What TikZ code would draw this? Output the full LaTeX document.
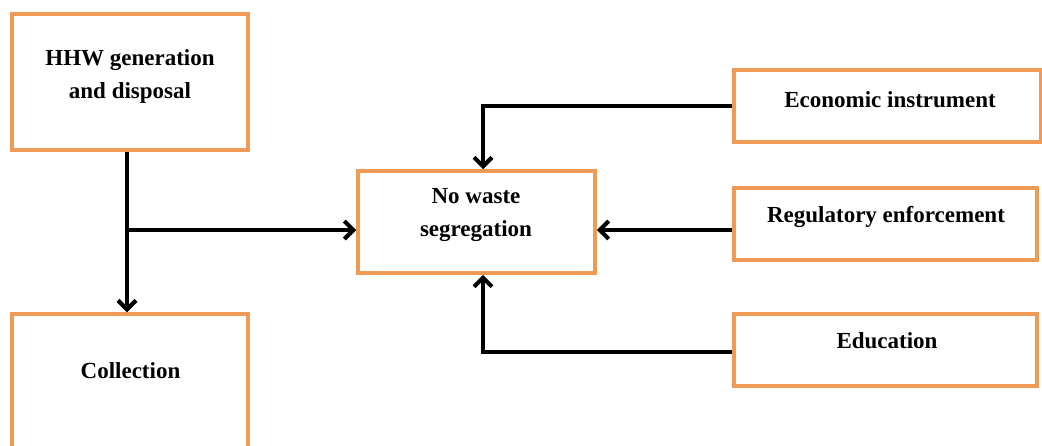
\documentclass[tikz,border=0pt]{standalone}
\usepackage{fontspec}
\setmainfont{Liberation Serif}
\usetikzlibrary{arrows.meta}
\definecolor{boxorange}{RGB}{240,155,85}
\begin{document}
\begin{tikzpicture}[x=1pt,y=-1pt,
  box/.style={draw=boxorange, line width=3.5pt, fill=white, rectangle, inner sep=0pt},
  lbl/.style={font=\fontsize{23}{33}\selectfont\bfseries, align=center, inner sep=0pt},
  flow/.style={line width=3.6pt, -{Straight Barb[length=9pt,width=18pt,line width=4.2pt]}}]
\useasboundingbox (0,0) rectangle (1042,445);
\clip (0,0) rectangle (1042,445);

% boxes
\node[box, minimum width=236pt, minimum height=136pt] (hhw)  at (130,82)    {};
\node[box, minimum width=236pt, minimum height=156pt] (coll) at (130,392)   {};
\node[box, minimum width=237pt, minimum height=102pt] (nows) at (476.5,222) {};
\node[box, minimum width=307pt, minimum height=72pt]  (econ) at (887.5,106) {};
\node[box, minimum width=303pt, minimum height=72pt]  (reg)  at (885.5,224) {};
\node[box, minimum width=303pt, minimum height=72pt]  (edu)  at (885.5,350) {};

% labels
\node[lbl] (thhw)  at (130,76.5)  {HHW generation\\and disposal};
\node[lbl, anchor=base] (tcoll) at (130.5,378) {Collection};
\node[lbl] (tnows) at (476,214.7) {No waste\\segregation};
\node[lbl, anchor=base] (tecon) at (890,107) {Economic instrument};
\node[lbl, anchor=base] (treg)  at (886,222) {Regulatory enforcement};
\node[lbl, anchor=base] (tedu)  at (887,348) {Education};

% routing points
\coordinate (j) at (127,230);
\coordinate (k) at (483,0);
\coordinate (r) at (0,230);
\coordinate (e) at (0,352);

% connectors
\draw[flow] (hhw.south -| j) -- (coll.north -| j);
\draw[flow] (j) -- (nows.west |- j);
\draw[flow] (econ.west) -| (k |- nows.north);
\draw[flow] (reg.west |- r) -- (nows.east |- r);
\draw[flow] (edu.west |- e) -| (k |- nows.south);
\end{tikzpicture}
\end{document}
